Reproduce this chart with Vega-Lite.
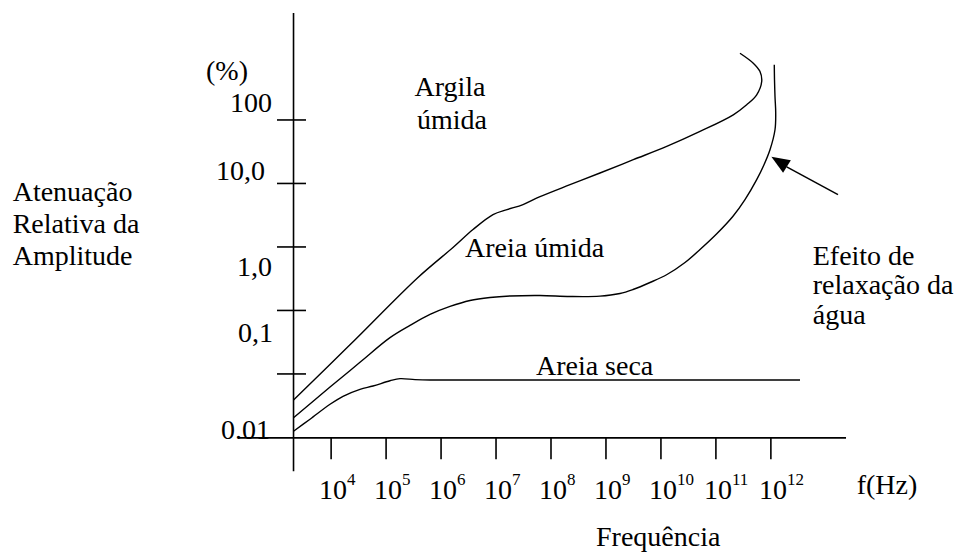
{
  "$schema": "https://vega.github.io/schema/vega-lite/v6.json",
  "width": 956,
  "height": 553,
  "autosize": {"type": "fit", "contains": "padding"},
  "padding": 0,
  "background": "white",
  "config": {
    "view": {"stroke": null},
    "text": {"font": "Liberation Serif", "fontSize": 28, "color": "black", "baseline": "alphabetic"}
  },
  "datasets": {
    "curves": [
      {"series": "Argila úmida", "order": 1, "log_freq": 3.316, "log_atten": -2.410},
      {"series": "Argila úmida", "order": 2, "log_freq": 4.343, "log_atten": -1.542},
      {"series": "Argila úmida", "order": 3, "log_freq": 5.580, "log_atten": -0.481},
      {"series": "Argila úmida", "order": 4, "log_freq": 6.217, "log_atten": -0.009},
      {"series": "Argila úmida", "order": 5, "log_freq": 6.581, "log_atten": 0.274},
      {"series": "Argila úmida", "order": 6, "log_freq": 6.945, "log_atten": 0.509},
      {"series": "Argila úmida", "order": 7, "log_freq": 7.200, "log_atten": 0.588},
      {"series": "Argila úmida", "order": 8, "log_freq": 7.491, "log_atten": 0.667},
      {"series": "Argila úmida", "order": 9, "log_freq": 7.800, "log_atten": 0.792},
      {"series": "Argila úmida", "order": 10, "log_freq": 8.346, "log_atten": 0.981},
      {"series": "Argila úmida", "order": 11, "log_freq": 8.891, "log_atten": 1.165},
      {"series": "Argila úmida", "order": 12, "log_freq": 9.497, "log_atten": 1.374},
      {"series": "Argila úmida", "order": 13, "log_freq": 10.105, "log_atten": 1.583},
      {"series": "Argila úmida", "order": 14, "log_freq": 10.711, "log_atten": 1.819},
      {"series": "Argila úmida", "order": 15, "log_freq": 11.316, "log_atten": 2.081},
      {"series": "Argila úmida", "order": 16, "log_freq": 11.560, "log_atten": 2.239},
      {"series": "Argila úmida", "order": 17, "log_freq": 11.742, "log_atten": 2.396},
      {"series": "Argila úmida", "order": 18, "log_freq": 11.833, "log_atten": 2.605},
      {"series": "Argila úmida", "order": 19, "log_freq": 11.802, "log_atten": 2.762},
      {"series": "Argila úmida", "order": 20, "log_freq": 11.680, "log_atten": 2.894},
      {"series": "Argila úmida", "order": 21, "log_freq": 11.438, "log_atten": 3.051},
      {"series": "Areia úmida", "order": 1, "log_freq": 3.316, "log_atten": -2.690},
      {"series": "Areia úmida", "order": 2, "log_freq": 3.980, "log_atten": -2.207},
      {"series": "Areia úmida", "order": 3, "log_freq": 4.525, "log_atten": -1.817},
      {"series": "Areia úmida", "order": 4, "log_freq": 5.071, "log_atten": -1.429},
      {"series": "Areia úmida", "order": 5, "log_freq": 5.435, "log_atten": -1.236},
      {"series": "Areia úmida", "order": 6, "log_freq": 5.799, "log_atten": -1.063},
      {"series": "Areia úmida", "order": 7, "log_freq": 6.163, "log_atten": -0.937},
      {"series": "Areia úmida", "order": 8, "log_freq": 6.526, "log_atten": -0.843},
      {"series": "Areia úmida", "order": 9, "log_freq": 6.890, "log_atten": -0.795},
      {"series": "Areia úmida", "order": 10, "log_freq": 7.254, "log_atten": -0.772},
      {"series": "Areia úmida", "order": 11, "log_freq": 7.800, "log_atten": -0.764},
      {"series": "Areia úmida", "order": 12, "log_freq": 8.346, "log_atten": -0.780},
      {"series": "Areia úmida", "order": 13, "log_freq": 8.891, "log_atten": -0.775},
      {"series": "Areia úmida", "order": 14, "log_freq": 9.255, "log_atten": -0.733},
      {"series": "Areia úmida", "order": 15, "log_freq": 9.492, "log_atten": -0.670},
      {"series": "Areia úmida", "order": 16, "log_freq": 9.801, "log_atten": -0.560},
      {"series": "Areia úmida", "order": 17, "log_freq": 10.110, "log_atten": -0.434},
      {"series": "Areia úmida", "order": 18, "log_freq": 10.438, "log_atten": -0.245},
      {"series": "Areia úmida", "order": 19, "log_freq": 10.711, "log_atten": -0.041},
      {"series": "Areia úmida", "order": 20, "log_freq": 11.020, "log_atten": 0.211},
      {"series": "Areia úmida", "order": 21, "log_freq": 11.311, "log_atten": 0.483},
      {"series": "Areia úmida", "order": 22, "log_freq": 11.529, "log_atten": 0.745},
      {"series": "Areia úmida", "order": 23, "log_freq": 11.742, "log_atten": 1.060},
      {"series": "Areia úmida", "order": 24, "log_freq": 11.875, "log_atten": 1.295},
      {"series": "Areia úmida", "order": 25, "log_freq": 11.984, "log_atten": 1.531},
      {"series": "Areia úmida", "order": 26, "log_freq": 12.075, "log_atten": 1.846},
      {"series": "Areia úmida", "order": 27, "log_freq": 12.088, "log_atten": 2.113},
      {"series": "Areia úmida", "order": 28, "log_freq": 12.075, "log_atten": 2.369},
      {"series": "Areia úmida", "order": 29, "log_freq": 12.066, "log_atten": 2.632},
      {"series": "Areia úmida", "order": 30, "log_freq": 12.062, "log_atten": 2.868},
      {"series": "Areia seca", "order": 1, "log_freq": 3.316, "log_atten": -2.902},
      {"series": "Areia seca", "order": 2, "log_freq": 3.616, "log_atten": -2.713},
      {"series": "Areia seca", "order": 3, "log_freq": 3.980, "log_atten": -2.478},
      {"series": "Areia seca", "order": 4, "log_freq": 4.216, "log_atten": -2.352},
      {"series": "Areia seca", "order": 5, "log_freq": 4.525, "log_atten": -2.242},
      {"series": "Areia seca", "order": 6, "log_freq": 4.762, "log_atten": -2.190},
      {"series": "Areia seca", "order": 7, "log_freq": 5.071, "log_atten": -2.108},
      {"series": "Areia seca", "order": 8, "log_freq": 5.253, "log_atten": -2.074},
      {"series": "Areia seca", "order": 9, "log_freq": 5.526, "log_atten": -2.089},
      {"series": "Areia seca", "order": 10, "log_freq": 5.799, "log_atten": -2.096},
      {"series": "Areia seca", "order": 11, "log_freq": 8.000, "log_atten": -2.096},
      {"series": "Areia seca", "order": 12, "log_freq": 12.530, "log_atten": -2.096}
    ],
    "yticks": [
      {"log_atten": 2}, {"log_atten": 1}, {"log_atten": 0}, {"log_atten": -1}, {"log_atten": -2}
    ],
    "xticks": [
      {"log_freq": 4, "exp": "4"}, {"log_freq": 5, "exp": "5"}, {"log_freq": 6, "exp": "6"},
      {"log_freq": 7, "exp": "7"}, {"log_freq": 8, "exp": "8"}, {"log_freq": 9, "exp": "9"},
      {"log_freq": 10, "exp": "10"}, {"log_freq": 11, "exp": "11"}, {"log_freq": 12, "exp": "12"}
    ],
    "notes": [
      {"label": "(%)", "anchor": "right", "log_freq": 2.488, "log_atten": 2.632},
      {"label": "100", "anchor": "right", "log_freq": 2.924, "log_atten": 2.118},
      {"label": "10,0", "anchor": "right", "log_freq": 2.797, "log_atten": 1.060},
      {"label": "1,0", "anchor": "right", "log_freq": 2.924, "log_atten": -0.461},
      {"label": "0,1", "anchor": "right", "log_freq": 2.943, "log_atten": -1.503},
      {"label": "0.01", "anchor": "right", "log_freq": 2.888, "log_atten": -3.028},
      {"label": "Areia seca", "anchor": "right", "log_freq": 9.861, "log_atten": -2.022},
      {"label": "Atenuação", "anchor": "left", "log_freq": -1.793, "log_atten": 0.718},
      {"label": "Relativa da", "anchor": "left", "log_freq": -1.793, "log_atten": 0.219},
      {"label": "Amplitude", "anchor": "left", "log_freq": -1.793, "log_atten": -0.281},
      {"label": "Efeito de", "anchor": "left", "log_freq": 12.761, "log_atten": -0.277},
      {"label": "relaxação da", "anchor": "left", "log_freq": 12.761, "log_atten": -0.748},
      {"label": "água", "anchor": "left", "log_freq": 12.761, "log_atten": -1.220},
      {"label": "f(Hz)", "anchor": "left", "log_freq": 13.561, "log_atten": -3.893},
      {"label": "Frequência", "anchor": "left", "log_freq": 8.819, "log_atten": -4.710},
      {"label": "Areia úmida", "anchor": "left", "log_freq": 6.435, "log_atten": -0.156},
      {"label": "Argila", "anchor": "center", "log_freq": 6.163, "log_atten": 2.380},
      {"label": "úmida", "anchor": "center", "log_freq": 6.199, "log_atten": 1.861}
    ],
    "arrow": [
      {"log_freq": 13.221, "log_atten": 0.824, "log_freq_end": 12.288, "log_atten_end": 1.261, "head_freq": 12.151, "head_atten": 1.343}
    ],
    "one": [{}]
  },
  "layer": [
    {
      "data": {"name": "curves"},
      "mark": {"type": "line", "interpolate": "catmull-rom", "color": "black", "strokeWidth": 1.4},
      "encoding": {
        "x": {"field": "log_freq", "type": "quantitative", "axis": null,
              "scale": {"domain": [-2.0238, 15.3678], "nice": false, "zero": false}},
        "y": {"field": "log_atten", "type": "quantitative", "axis": null,
              "scale": {"domain": [-4.8043, 3.8894], "nice": false, "zero": false}},
        "detail": {"field": "series"},
        "order": {"field": "order", "type": "quantitative"}
      }
    },
    {
      "data": {"name": "one"},
      "mark": {"type": "rule", "color": "black", "strokeWidth": 1.6},
      "encoding": {
        "x": {"datum": 3.316, "type": "quantitative", "axis": null},
        "y": {"datum": -3.531, "type": "quantitative", "axis": null},
        "y2": {"datum": 3.685}
      }
    },
    {
      "data": {"name": "one"},
      "mark": {"type": "rule", "color": "black", "strokeWidth": 1.6},
      "encoding": {
        "x": {"datum": 2.306, "type": "quantitative", "axis": null},
        "x2": {"datum": 13.367},
        "y": {"datum": -3.007, "type": "quantitative", "axis": null}
      }
    },
    {
      "data": {"name": "yticks"},
      "mark": {"type": "rule", "color": "black", "strokeWidth": 1.6},
      "encoding": {
        "x": {"datum": 3.015, "type": "quantitative", "axis": null},
        "x2": {"datum": 3.543},
        "y": {"field": "log_atten", "type": "quantitative", "axis": null}
      }
    },
    {
      "data": {"name": "xticks"},
      "mark": {"type": "rule", "color": "black", "strokeWidth": 1.6},
      "encoding": {
        "x": {"field": "log_freq", "type": "quantitative", "axis": null},
        "y": {"datum": -3.007, "type": "quantitative", "axis": null},
        "y2": {"datum": -3.342}
      }
    },
    {
      "data": {"name": "xticks"},
      "mark": {"type": "text", "text": "10", "align": "left", "dx": -12},
      "encoding": {
        "x": {"field": "log_freq", "type": "quantitative", "axis": null},
        "y": {"datum": -3.971, "type": "quantitative", "axis": null}
      }
    },
    {
      "data": {"name": "xticks"},
      "mark": {"type": "text", "align": "left", "dx": 16, "dy": -14, "fontSize": 17},
      "encoding": {
        "x": {"field": "log_freq", "type": "quantitative", "axis": null},
        "y": {"datum": -3.971, "type": "quantitative", "axis": null},
        "text": {"field": "exp"}
      }
    },
    {
      "data": {"name": "notes"},
      "transform": [{"filter": "datum.anchor === 'right'"}],
      "mark": {"type": "text", "align": "right"},
      "encoding": {
        "x": {"field": "log_freq", "type": "quantitative", "axis": null},
        "y": {"field": "log_atten", "type": "quantitative", "axis": null},
        "text": {"field": "label"}
      }
    },
    {
      "data": {"name": "notes"},
      "transform": [{"filter": "datum.anchor === 'left'"}],
      "mark": {"type": "text", "align": "left"},
      "encoding": {
        "x": {"field": "log_freq", "type": "quantitative", "axis": null},
        "y": {"field": "log_atten", "type": "quantitative", "axis": null},
        "text": {"field": "label"}
      }
    },
    {
      "data": {"name": "notes"},
      "transform": [{"filter": "datum.anchor === 'center'"}],
      "mark": {"type": "text", "align": "center"},
      "encoding": {
        "x": {"field": "log_freq", "type": "quantitative", "axis": null},
        "y": {"field": "log_atten", "type": "quantitative", "axis": null},
        "text": {"field": "label"}
      }
    },
    {
      "data": {"name": "arrow"},
      "mark": {"type": "rule", "color": "black", "strokeWidth": 1.5},
      "encoding": {
        "x": {"field": "log_freq", "type": "quantitative", "axis": null},
        "y": {"field": "log_atten", "type": "quantitative", "axis": null},
        "x2": {"field": "log_freq_end"},
        "y2": {"field": "log_atten_end"}
      }
    },
    {
      "data": {"name": "arrow"},
      "mark": {"type": "point", "shape": "M0,-1L0.8,1L-0.8,1Z", "filled": true, "color": "black", "opacity": 1, "size": 338, "angle": 302, "strokeWidth": 0},
      "encoding": {
        "x": {"field": "head_freq", "type": "quantitative", "axis": null},
        "y": {"field": "head_atten", "type": "quantitative", "axis": null}
      }
    }
  ]
}
